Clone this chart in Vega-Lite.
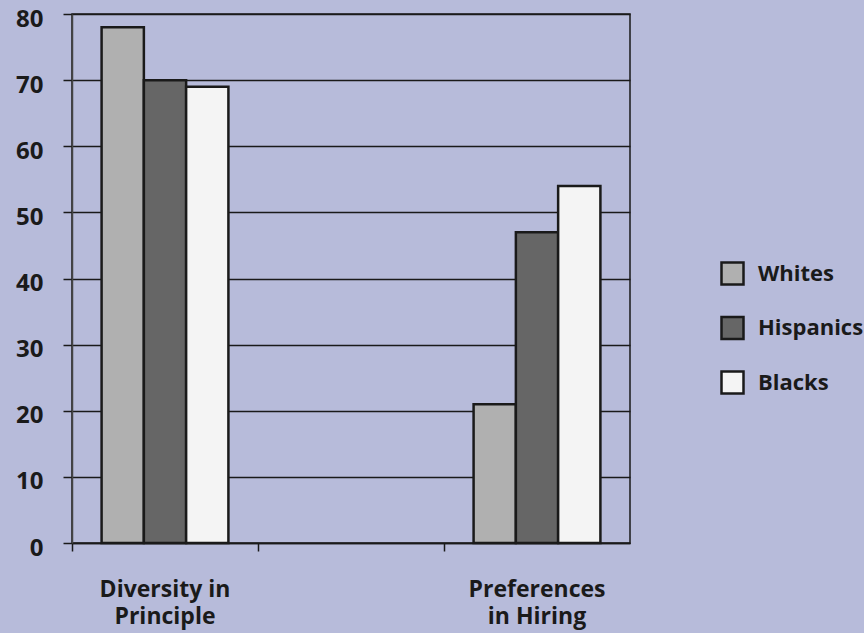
{
  "$schema": "https://vega.github.io/schema/vega-lite/v6.json",
  "width": 558,
  "height": 529,
  "autosize": {"type": "none"},
  "padding": {"left": 72, "top": 14, "right": 234, "bottom": 90},
  "background": "#b7bbda",
  "config": {
    "view": {"stroke": "#1a1a1a", "strokeWidth": 1.5},
    "font": "Open Sans",
    "axis": {"labelFont": "Open Sans", "labelFontWeight": "bold", "labelColor": "#1a1a1a"},
    "legend": {"labelFont": "Open Sans", "labelFontWeight": "bold", "labelColor": "#1a1a1a"}
  },
  "data": {
    "values": [
      {"category": "Diversity in Principle", "group": "Whites", "value": 78},
      {"category": "Diversity in Principle", "group": "Hispanics", "value": 70},
      {"category": "Diversity in Principle", "group": "Blacks", "value": 69},
      {"category": "Preferences in Hiring", "group": "Whites", "value": 21},
      {"category": "Preferences in Hiring", "group": "Hispanics", "value": 47},
      {"category": "Preferences in Hiring", "group": "Blacks", "value": 54}
    ]
  },
  "mark": {"type": "bar", "stroke": "#1a1a1a", "strokeWidth": 2.5},
  "encoding": {
    "x": {
      "field": "category",
      "type": "nominal",
      "scale": {"domain": ["Diversity in Principle", "gap", "Preferences in Hiring"], "paddingInner": 0, "paddingOuter": 0},
      "axis": {
        "title": null,
        "labelAngle": 0,
        "bandPosition": 0,
        "labelExpr": "datum.value == 'Diversity in Principle' ? ['Diversity in', 'Principle'] : datum.value == 'Preferences in Hiring' ? ['Preferences', 'in Hiring'] : ''",
        "labelFontSize": 23,
        "labelLineHeight": 27,
        "labelPadding": 27,
        "labelBaseline": "top",
        "tickSize": 8,
        "tickColor": "#1a1a1a",
        "tickWidth": 1.5,
        "domainColor": "#1a1a1a",
        "domainWidth": 1.5,
        "grid": false
      }
    },
    "xOffset": {
      "field": "group",
      "type": "nominal",
      "sort": ["Whites", "Hispanics", "Blacks"],
      "scale": {"paddingInner": 0, "paddingOuter": 0.7}
    },
    "y": {
      "field": "value",
      "type": "quantitative",
      "scale": {"domain": [0, 80], "nice": false},
      "axis": {
        "title": null,
        "values": [0, 10, 20, 30, 40, 50, 60, 70, 80],
        "grid": true,
        "gridColor": "#1a1a1a",
        "gridWidth": 1.5,
        "tickSize": 9,
        "tickColor": "#1a1a1a",
        "tickWidth": 1.5,
        "domainColor": "#444444",
        "domainWidth": 1.5,
        "labelFontSize": 24,
        "labelPadding": 20,
        "labelOffset": 5
      }
    },
    "fill": {
      "field": "group",
      "type": "nominal",
      "sort": ["Whites", "Hispanics", "Blacks"],
      "scale": {"domain": ["Whites", "Hispanics", "Blacks"], "range": ["#b0b0b0", "#666666", "#f4f4f4"]},
      "legend": {
        "title": null,
        "orient": "none",
        "legendX": 648,
        "legendY": 247,
        "padding": 0,
        "symbolType": "square",
        "symbolSize": 484,
        "symbolStrokeColor": "#1a1a1a",
        "symbolStrokeWidth": 2.5,
        "symbolOpacity": 1,
        "labelFontSize": 22,
        "labelOffset": 13,
        "rowPadding": 21.5
      }
    }
  }
}
